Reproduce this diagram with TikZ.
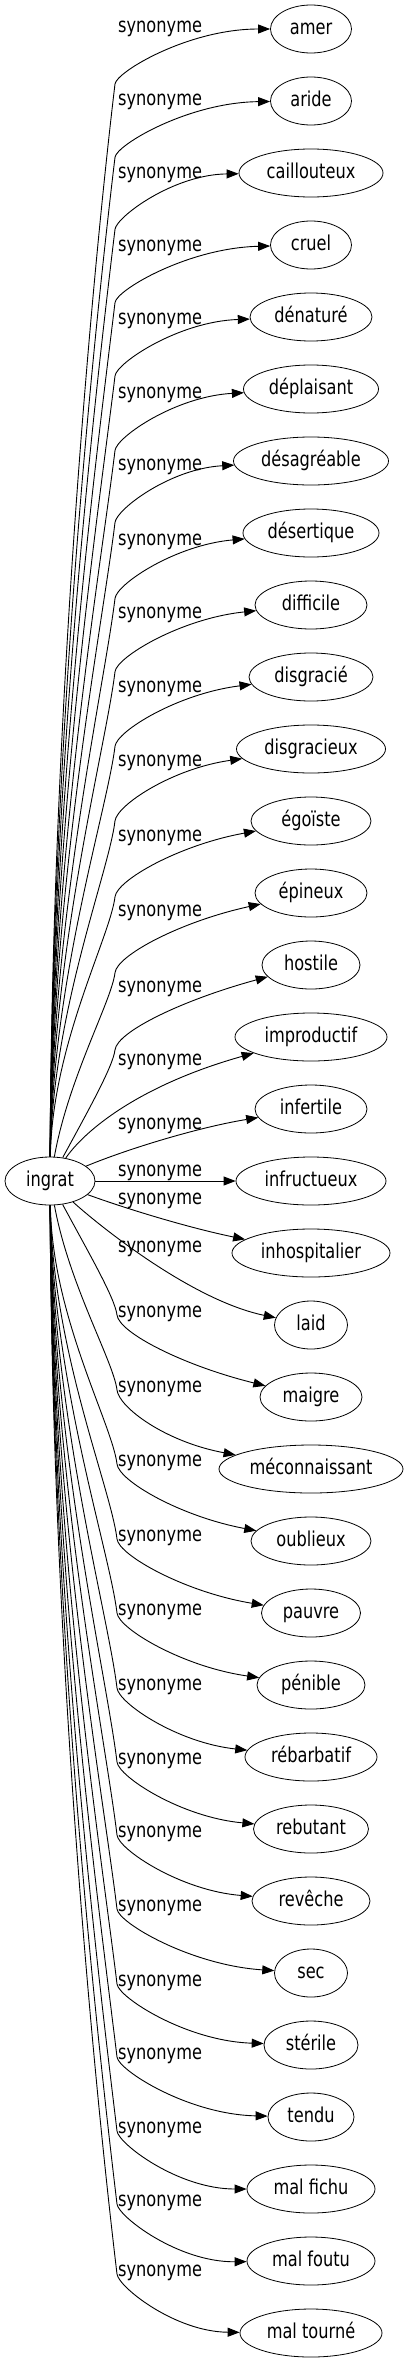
\documentclass[tikz,border=0pt]{standalone}
\usepackage{fontspec}
\setmainfont{DejaVu Sans}[FakeStretch=0.79]
\usetikzlibrary{arrows.meta,shapes.geometric}
\tikzset{
        word/.style={draw, ellipse, line width=0.8pt, inner sep=0pt, minimum height=48pt, text height=15.6pt, text depth=4.9pt},
        rel/.style={draw, line width=0.9pt, -{Triangle[length=12pt,width=9pt]}},
        tag/.style={anchor=base west, inner sep=0pt}
}
\begin{document}
\begin{tikzpicture}[x=1pt, y=-1pt, font=\fontsize{20.5}{24}\selectfont]
        \useasboundingbox (0,0) rectangle (408,2363);
        \node[word, minimum width=90pt] (ingrat) at (50,1181) {ingrat};
        \foreach \wid/\word/\ly [count=\i from 0] in {81/amer/27, 81/aride/100, 144/caillouteux/172, 81/cruel/245,
                122/dénaturé/318, 135/déplaisant/392, 155/désagréable/464, 136/désertique/539, 112/difficile/612,
                124/disgracié/686, 149/disgracieux/760, 120/égoïste/835, 112/épineux/910, 98/hostile/986,
                152/improductif/1059, 112/infertile/1123, 150/infructueux/1170, 158/inhospitalier/1198,
                73/laid/1246, 102/maigre/1311, 184/méconnaissant/1386, 120/oublieux/1460, 99/pauvre/1535,
                108/pénible/1609, 132/rébarbatif/1684, 115/rebutant/1758, 118/revêche/1831, 73/sec/1905,
                94/stérile/1980, 86/tendu/2053, 128/mal fichu/2127, 128/mal foutu/2200, 142/mal tourné/2270}
        {
                \pgfmathsetmacro\ypos{29+72*\i}
                \pgfmathsetmacro\xwest{311-\wid/2}
                \node[word, minimum width=\wid pt] (t\i) at (311,\ypos) {\word};
                \node[tag] (l\i) at (118,\ly+6) {synonyme};
                % upper fan
                \ifnum\i<14
                        \pgfmathsetmacro\ybend{\ly+57+0.3*(\ly-\ypos+2)}
                        \pgfmathsetmacro\hgap{1157-\ybend}
                        \pgfmathsetmacro\fshift{max(0,1-\hgap/250)}
                        \coordinate (k\i) at (115,\ybend);
                        \draw[rel] (ingrat) .. controls ({52+63*\fshift},{1157-0.43*\hgap}) and ({115-0.0185*\hgap},{\ybend+0.154*\hgap}) .. (k\i)
                                .. controls ({115+0.0264*(\ybend-\ypos)},{\ybend-0.22*(\ybend-\ypos)}) and ({\xwest-0.53*(\xwest-115)},{\ypos+1.5*(\ly-\ypos+2)}) .. (t\i);
                \fi
                % lower fan
                \ifnum\i>18
                        \pgfmathsetmacro\ybend{\ly+4}
                        \pgfmathsetmacro\hgap{\ybend-1205}
                        \pgfmathsetmacro\fshift{max(0,1-\hgap/250)}
                        \coordinate (k\i) at (117,\ybend);
                        \draw[rel] (ingrat) .. controls ({52+65*\fshift},{1205+0.43*\hgap}) and ({117-0.0185*\hgap},{\ybend-0.154*\hgap}) .. (k\i)
                                .. controls ({117+0.0264*(\ypos-\ybend)},{\ybend+0.22*(\ypos-\ybend)}) and ({\xwest-0.53*(\xwest-117)},{\ypos-1.3*(\ypos-\ly-62)}) .. (t\i);
                \fi
        }
        \draw[rel] (ingrat) .. controls (85,1130) and (140,1085) .. (t14);
        \draw[rel] (ingrat) .. controls (130,1148) and (200,1127) .. (t15);
        \draw[rel] (ingrat) -- (t16);
        \draw[rel] (ingrat) .. controls (130,1210) and (190,1228) .. (t17);
        \draw[rel] (ingrat) .. controls (95,1222) and (190,1300) .. (t18);
\end{tikzpicture}
\end{document}
